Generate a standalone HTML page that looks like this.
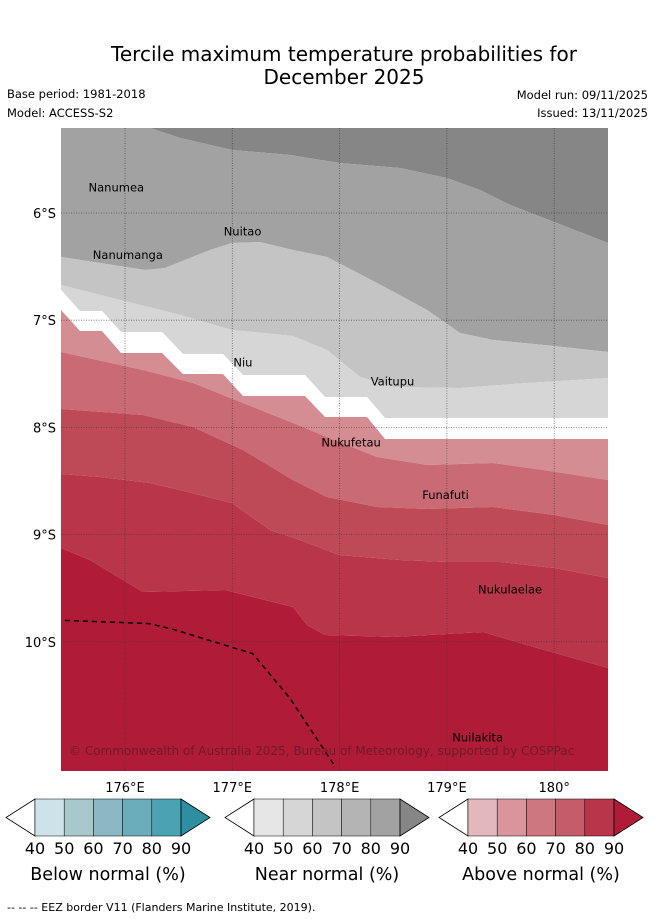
<!DOCTYPE html>
<html><head><meta charset="utf-8">
<style>
html,body{margin:0;padding:0;background:#fff;width:655px;height:919px;overflow:hidden}
svg{display:block;font-family:"DejaVu Sans","Liberation Sans",sans-serif}
</style></head>
<body>
<svg id="c" width="655" height="919" viewBox="0 0 655 919" xmlns="http://www.w3.org/2000/svg">
<text x="344" y="61" font-size="20" text-anchor="middle" fill="#000">Tercile maximum temperature probabilities for</text>
<text x="344" y="84" font-size="20" text-anchor="middle" fill="#000">December 2025</text>
<text x="7" y="98" font-size="11.5">Base period: 1981-2018</text>
<text x="7" y="117" font-size="11.5">Model: ACCESS-S2</text>
<text x="648" y="99" font-size="11.5" text-anchor="end">Model run: 09/11/2025</text>
<text x="648" y="117" font-size="11.5" text-anchor="end">Issued: 13/11/2025</text>
<defs><clipPath id="mapclip"><rect x="61" y="128" width="547" height="643"/></clipPath></defs>
<g id="map" clip-path="url(#mapclip)"></g>
</svg>
<script>
// boundary lines between probability bands (lon °E, lat °S), top to bottom
const bDarkLon=[175.404,176.233,176.513,176.997,177.538,177.994,178.563,179.001,179.308,179.588,179.998,180.501];
const bDarkLat=[5.207,5.207,5.300,5.412,5.459,5.534,5.580,5.674,5.785,5.925,6.084,6.280];
const bGreyLon=[175.404,175.767,176.186,176.373,176.559,176.792,176.997,177.258,177.566,177.883,178.349,178.815,179.122,179.430,179.998,180.501];
const bGreyLat=[6.410,6.466,6.532,6.513,6.438,6.345,6.280,6.271,6.345,6.410,6.653,6.905,7.119,7.185,7.241,7.297];
const bLightLon=[175.404,175.953,176.513,176.997,177.566,177.883,178.190,178.498,179.122,179.746,180.501];
const bLightLat=[6.672,6.812,6.951,7.091,7.147,7.278,7.530,7.623,7.632,7.586,7.539];
const bWhiteTopLon=[175.404,175.581,175.786,175.963,176.345,176.541,176.913,177.100,177.678,177.864,178.255,178.423,180.501];
const bWhiteTopLat=[6.718,6.914,6.914,7.110,7.110,7.315,7.315,7.511,7.511,7.716,7.716,7.912,7.912];
const bWhiteBotLon=[175.404,175.581,175.786,175.963,176.345,176.541,176.913,177.100,177.678,177.864,178.255,178.423,180.501];
const bWhiteBotLat=[6.905,7.101,7.101,7.306,7.306,7.502,7.502,7.707,7.707,7.903,7.903,8.108,8.108];
const bPinkLon=[175.404,176.168,176.634,177.100,177.566,177.883,178.349,178.815,179.430,179.896,180.501];
const bPinkLat=[7.297,7.465,7.586,7.772,7.959,8.090,8.276,8.351,8.332,8.397,8.491];
const bRed60Lon=[175.404,176.168,176.634,177.100,177.566,177.883,178.349,178.815,179.430,179.998,180.501];
const bRed60Lat=[7.828,7.884,7.996,8.211,8.491,8.649,8.743,8.761,8.743,8.817,8.910];
const bRed70Lon=[175.404,175.767,176.233,176.513,176.997,177.351,177.631,177.994,178.563,179.001,179.495,179.998,180.501];
const bRed70Lat=[8.435,8.463,8.519,8.584,8.705,8.957,9.050,9.190,9.237,9.256,9.256,9.312,9.405];
const bRed80Lon=[175.404,175.674,176.168,176.932,177.566,177.696,177.864,178.498,179.336,179.746,180.501];
const bRed80Lat=[9.125,9.237,9.535,9.517,9.675,9.843,9.937,9.955,9.909,10.030,10.244];
const bandColors=["#868686","#a2a2a2","#c4c4c4","#d6d6d6","#ffffff","#d58d94","#c96a74","#be4a57","#b8354a","#b01c38"];
const eezLon=[175.44,176.23,176.47,177.19,177.54,177.95];
const eezLat=[9.80,9.83,9.89,10.11,10.53,11.15];
const lonTicks=[176,177,178,179,180];
const lonLabels=["176°E","177°E","178°E","179°E","180°"];
const latTicks=[6,7,8,9,10];
const latLabels=["6°S","7°S","8°S","9°S","10°S"];
const places=["Nanumea","Nuitao","Nanumanga","Niu","Vaitupu","Nukufetau","Funafuti","Nukulaelae","Nuilakita"];
const placeLon=[175.66,176.92,175.70,177.01,178.29,177.83,178.77,179.29,179.05];
const placeLat=[5.80,6.21,6.43,7.43,7.61,8.18,8.67,9.55,10.93];
const cbTicks=["40","50","60","70","80","90"];
const blueCols=["#cde3e9","#a8c8cc","#8bb8c3","#6cadbb","#4ba2b3","#2e8fa1"];
const greyCols=["#e6e6e6","#d6d6d6","#c4c4c4","#b4b4b4","#a2a2a2","#868686"];
const redCols=["#e2b8be","#d8959b","#cd7880","#c45c69","#b8354a","#b01c38"];

const X=lon=>125+(lon-176)*107.3;
const Y=lat=>213+(lat-6)*107.2;
const NS="http://www.w3.org/2000/svg";
function mk(tag,attrs,parent){const e=document.createElementNS(NS,tag);for(const k in attrs)e.setAttribute(k,attrs[k]);parent.appendChild(e);return e;}
const map=document.getElementById('map'), svg=document.getElementById('c');
const bounds=[null,[bDarkLon,bDarkLat],[bGreyLon,bGreyLat],[bLightLon,bLightLat],[bWhiteTopLon,bWhiteTopLat],[bWhiteBotLon,bWhiteBotLat],[bPinkLon,bPinkLat],[bRed60Lon,bRed60Lat],[bRed70Lon,bRed70Lat],[bRed80Lon,bRed80Lat],null];
const names=['band-near-90','band-near-80','band-near-70','band-near-60','band-neutral','band-above-60','band-above-70','band-above-80','band-above-90','band-above-90plus'];
for(let i=0;i<bandColors.length;i++){
  const top=bounds[i], bot=bounds[i+1];
  let d='';
  if(top){top[0].forEach((l,j)=>{d+=(j?'L':'M')+X(l).toFixed(1)+','+Y(top[1][j]).toFixed(1);});}
  else d='M40,100L640,100';
  if(bot){for(let j=bot[0].length-1;j>=0;j--){d+='L'+X(bot[0][j]).toFixed(1)+','+Y(bot[1][j]).toFixed(1);}}
  else d+='L640,800L40,800';
  const p=mk('path',{d:d+'Z',fill:bandColors[i]},map);
  
  
}
lonTicks.forEach((t,i)=>{
  const l=mk('line',{x1:X(t),x2:X(t),y1:128,y2:771,stroke:'#333','stroke-width':0.8,'stroke-dasharray':'1,1.5','stroke-opacity':0.7},map);
  
  
  const tx=mk('text',{x:X(t),y:792,'font-size':13,'text-anchor':'middle'},svg);
  tx.textContent=lonLabels[i];
  
  
});
latTicks.forEach((t,i)=>{
  const l=mk('line',{x1:61,x2:608,y1:Y(t),y2:Y(t),stroke:'#333','stroke-width':0.8,'stroke-dasharray':'1,1.5','stroke-opacity':0.7},map);
  
  
  const tx=mk('text',{x:56,y:Y(t)+5,'font-size':13,'text-anchor':'end'},svg);
  tx.textContent=latLabels[i];
  
  
});
let ed='';eezLon.forEach((l,j)=>{ed+=(j?'L':'M')+X(l).toFixed(1)+','+Y(eezLat[j]).toFixed(1);});
const eez=mk('path',{d:ed,fill:'none',stroke:'#000','stroke-width':1.5,'stroke-dasharray':'5,4'},map);


places.forEach((n,i)=>{
  const t=mk('text',{x:X(placeLon[i]),y:Y(placeLat[i]),'font-size':11.5,'text-anchor':'start',fill:'#000'},map);
  t.textContent=n;
  
  
});
const cp=mk('text',{x:69,y:755,'font-size':12,fill:'#5e1a24','fill-opacity':0.8},map);
cp.textContent='© Commonwealth of Australia 2025, Bureau of Meteorology, supported by COSPPac';



function colorbar(x0,cols,title,name){
  const g=mk('g',{},svg);
  
  
  const w=29.2, y0=799, h=37;
  mk('polygon',{points:`${x0},${y0} ${x0-29},${y0+h/2} ${x0},${y0+h}`,fill:'#fff',stroke:'#000','stroke-width':0.8},g);
  cols.slice(0,5).forEach((c,i)=>mk('rect',{x:x0+i*w,y:y0,width:w,height:h,fill:c,stroke:'#000','stroke-width':0.5},g));
  const xe=x0+5*w;
  mk('polygon',{points:`${xe},${y0} ${xe+29},${y0+h/2} ${xe},${y0+h}`,fill:cols[5],stroke:'#000','stroke-width':0.8},g);
  cbTicks.forEach((t,i)=>{const tx=mk('text',{x:x0+i*w,y:854,'font-size':16,'text-anchor':'middle'},g);tx.textContent=t;});
  const tt=mk('text',{x:x0+2.5*w,y:880,'font-size':17.5,'text-anchor':'middle'},g);tt.textContent=title;
}
colorbar(35,blueCols,'Below normal (%)','colorbar-below');
colorbar(254,greyCols,'Near normal (%)','colorbar-near');
colorbar(468,redCols,'Above normal (%)','colorbar-above');
const ft=mk('text',{x:7,y:911,'font-size':11},svg);
ft.textContent='--  --  -- EEZ border V11 (Flanders Marine Institute, 2019).';


</script>
</body></html>
